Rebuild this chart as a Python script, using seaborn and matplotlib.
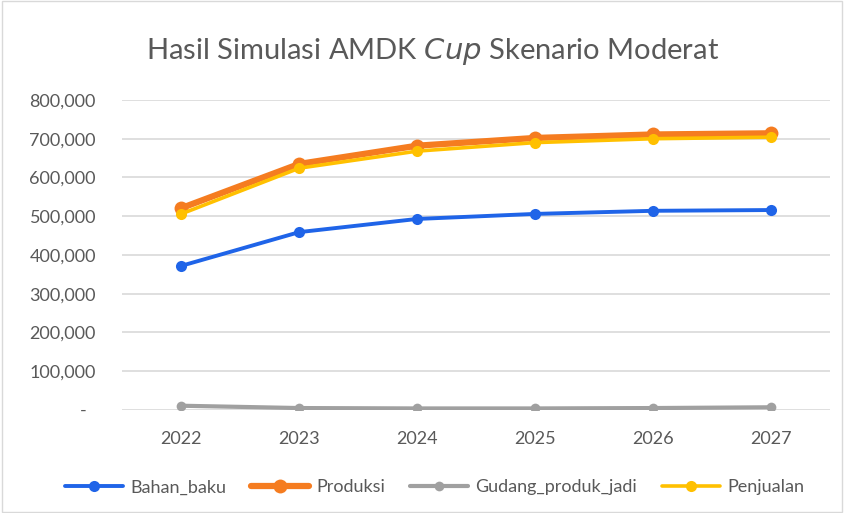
import numpy as np
import pandas as pd
import matplotlib
matplotlib.use("Agg")
import matplotlib.pyplot as plt
import seaborn as sns
from matplotlib.ticker import FuncFormatter

years = ["2022", "2023", "2024", "2025", "2026", "2027"]
bahan_baku = [372000, 459000, 493000, 506000, 514000, 516000]
produksi = [521000, 635000, 682000, 702000, 711000, 714000]
gudang_produk_jadi = [11000, 5000, 4000, 4000, 5000, 7000]
penjualan = [506000, 624000, 668000, 690000, 700000, 704000]

series = ["Bahan_baku", "Produksi", "Gudang_produk_jadi", "Penjualan"]
colors = ["#1f64e8", "#f57c20", "#a0a0a0", "#ffc000"]

df = pd.DataFrame({
    "tahun": years * 4,
    "nilai": bahan_baku + produksi + gudang_produk_jadi + penjualan,
    "seri": [s for s in series for _ in years],
})

sns.set_style("white")
plt.rcParams["font.family"] = ["Lato", "DejaVu Sans"]

fig = plt.figure(figsize=(8.44, 5.13), dpi=100)
ax = fig.add_axes([0.145, 0.2008, 0.838, 0.6043])

widths = {"Bahan_baku": 2.8, "Produksi": 4.5, "Gudang_produk_jadi": 3.0, "Penjualan": 2.6}
msizes = {"Bahan_baku": 8, "Produksi": 10, "Gudang_produk_jadi": 7, "Penjualan": 8}
# draw order: grey, blue, orange, yellow on top
for name in ["Gudang_produk_jadi", "Bahan_baku", "Produksi", "Penjualan"]:
    sub = df[df["seri"] == name]
    sns.lineplot(data=sub, x="tahun", y="nilai", ax=ax, color=colors[series.index(name)],
                 linewidth=widths[name], marker="o", markersize=msizes[name],
                 markeredgewidth=0, label=name, legend=False)

ax.set_xlim(-0.5, 5.5)
ax.set_ylim(0, 800000)
ax.set_yticks(np.arange(0, 800001, 100000))
ax.yaxis.set_major_formatter(FuncFormatter(lambda v, p: "-  " if v == 0 else f"{int(v):,}"))
ax.grid(axis="y", color="#d9d9d9", linewidth=1.2)
ax.grid(axis="x", visible=False)
for s in ax.spines.values():
    s.set_visible(False)
ax.tick_params(axis="both", length=0, labelsize=13, colors="#595959")
ax.tick_params(axis="y", pad=19)
ax.tick_params(axis="x", pad=15)
ax.set_xlabel("")
ax.set_ylabel("")

fig.text(0.512, 0.9, "Hasil Simulasi AMDK $\\it{Cup}$ Skenario Moderat", ha="center",
         va="center", fontsize=21, color="#595959")

handles = {}
for line in ax.get_lines():
    handles[line.get_label()] = line
hs = [handles[n] for n in series]
fig.legend(hs, series, loc="center", bbox_to_anchor=(0.515, 0.05), ncol=4, frameon=False,
           fontsize=13, labelcolor="#595959", handlelength=3.2, columnspacing=1.4, handletextpad=0.4)

fig.patches.append(plt.Rectangle((0.002, 0.002), 0.996, 0.996, transform=fig.transFigure,
                                 fill=False, edgecolor="#d9d9d9", linewidth=1))

fig.savefig("out.png", dpi=100)
